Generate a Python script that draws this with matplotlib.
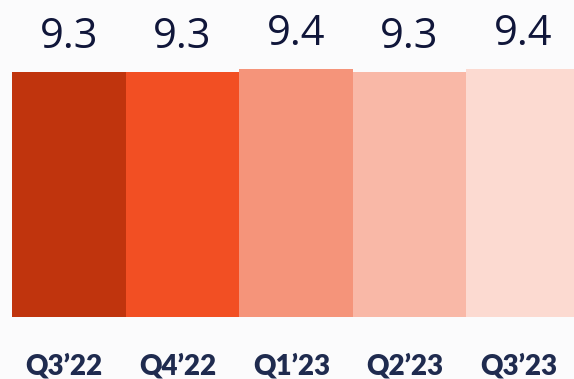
import numpy as np
import matplotlib.pyplot as plt
import matplotlib.transforms as mtransforms

# --- Data ---
quarters = ['Q3\u201922', 'Q4\u201922', 'Q1\u201923', 'Q2\u201923', 'Q3\u201923']
values = [9.3, 9.3, 9.4, 9.3, 9.4]
bar_colors = ['#c0340d', '#f24f23', '#f5947a', '#f9b8a7', '#fcdad1']

bg = '#fbfbfc'
fig = plt.figure(figsize=(5.74, 3.79), dpi=100, facecolor=bg)
# axes extends slightly past the right edge so the last bar is clipped
ax = fig.add_axes([12 / 574, (379 - 317) / 379, 568 / 574, 263.5 / 379])
ax.set_facecolor(bg)

x = np.arange(len(quarters))
ax.bar(x, values, width=1.0, color=bar_colors, linewidth=0)
ax.set_xlim(-0.5, len(quarters) - 0.5)
ax.set_ylim(0, 10)
ax.axis('off')

# value labels above the bars
for xi, v in zip(x, values):
    ax.annotate(f'{v:.1f}', (xi, v), xytext=(0, 17.5), textcoords='offset points',
                ha='center', va='baseline', fontsize=30, family='Open Sans',
                color='#10163a')

# category labels near the bottom of the figure
trans = mtransforms.blended_transform_factory(ax.transData, fig.transFigure)
for xi, lab in zip(x, quarters):
    ax.text(xi - 0.04, 0.012, lab, transform=trans, ha='center', va='baseline',
            fontsize=20, family='Lato', fontweight='heavy', color='#1f2b4f',
            clip_on=False)

fig.savefig('out.png', dpi=100, facecolor=bg)
